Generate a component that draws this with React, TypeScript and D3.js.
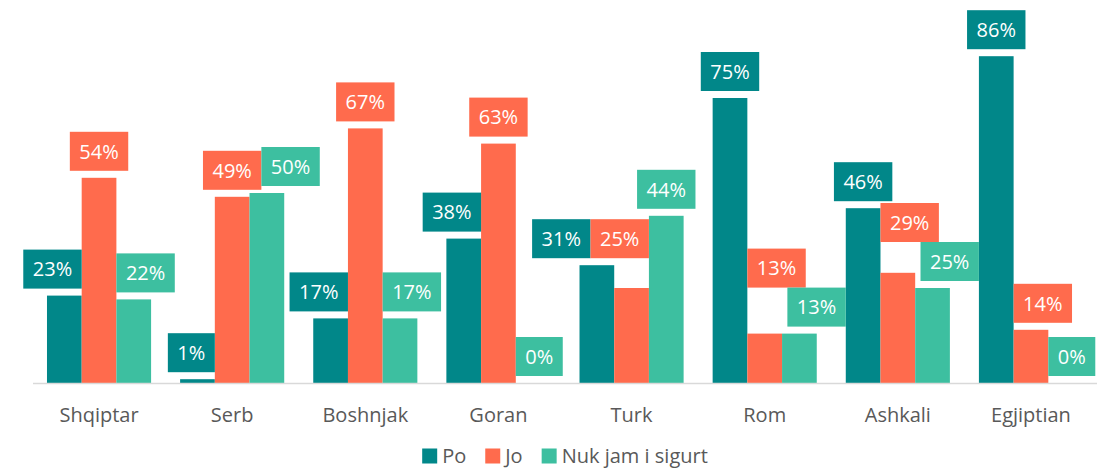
import React from "react";
import * as d3 from "d3";

const categories = ["Shqiptar", "Serb", "Boshnjak", "Goran", "Turk", "Rom", "Ashkali", "Egjiptian"];
const seriesNames = ["Po", "Jo", "Nuk jam i sigurt"];
const poValues = [23, 1, 17, 38, 31, 75, 46, 86];
const joValues = [54, 49, 67, 63, 25, 13, 29, 14];
const nukValues = [22, 50, 17, 0, 44, 13, 25, 0];
const seriesColors = ["#018789", "#FF6B4D", "#3DBFA0"];

const W = 1097;
const H = 468;
const FONT = "'Open Sans', 'Noto Sans', sans-serif";

type Bar = { ci: number; si: number; v: number; x0: number; x1: number; top: number };
type Box = { bar: Bar; text: string; w: number; h: number; x0: number; x1: number; y0: number; y1: number };

function overlapsBar(b: Box, bar: Bar) {
  return b.x1 > bar.x0 + 0.5 && b.x0 < bar.x1 - 0.5 && b.y1 > bar.top + 0.5 && bar.v > 0;
}
function overlapsBox(a: Box, b: Box) {
  return a.x1 > b.x0 + 0.5 && a.x0 < b.x1 - 0.5 && a.y1 > b.y0 + 0.5 && a.y0 < b.y1 - 0.5;
}
function shiftX(b: Box, dx: number) { b.x0 += dx; b.x1 += dx; }
function setY1(b: Box, y1: number) { b.y1 = y1; b.y0 = y1 - b.h; }

export default function App() {
  const plotLeft = 33;
  const plotRight = 1097;
  const x = d3.scaleBand<string>().domain(categories).range([plotLeft, plotRight]).paddingInner(0.218).paddingOuter(0.105);
  const xs = d3.scaleBand<string>().domain(seriesNames).range([0, x.bandwidth()]);
  const y = d3.scaleLinear().domain([0, 100]).range([383, 3]);
  const series = [poValues, joValues, nukValues];
  const fmt = (v: number) => `${v}%`;

  const bars: Bar[] = [];
  categories.forEach((c, ci) =>
    series.forEach((vals, si) => {
      const x0 = (x(c) as number) + (xs(seriesNames[si]) as number);
      bars.push({ ci, si, v: vals[ci], x0, x1: x0 + xs.bandwidth(), top: y(vals[ci]) });
    })
  );

  const canvas = typeof document !== "undefined" ? document.createElement("canvas") : null;
  const ctx = canvas ? canvas.getContext("2d") : null;
  const measure = (t: string, size: number) => {
    if (!ctx) return t.length * size * 0.57;
    ctx.font = `${size}px 'Open Sans'`;
    return ctx.measureText(t).width;
  };

  const gap = 7;
  const boxH = 39;
  const padX = 9.5;
  const boxes: Box[] = bars.map((bar) => {
    const text = fmt(bar.v);
    const w = measure(text, 20) + padX * 2;
    const cx = (bar.x0 + bar.x1) / 2;
    const y1 = bar.top - gap;
    return { bar, text, w, h: boxH, x0: cx - w / 2, x1: cx + w / 2, y0: y1 - boxH, y1 };
  });

  // step 1: keep labels off other bars
  boxes.forEach((b) => {
    const hits = bars.filter((o) => o !== b.bar && overlapsBar(b, o));
    if (!hits.length) return;
    const tallest = hits.reduce((a, o) => (o.top < a.top ? o : a));
    if (tallest.x0 < b.bar.x0) shiftX(b, tallest.x1 - b.x0);
    else shiftX(b, tallest.x0 - b.x1);
    const rest = bars.filter((o) => o !== b.bar && overlapsBar(b, o));
    if (rest.length) setY1(b, d3.min(rest, (o) => o.top)! - gap);
  });

  const roomRight = (b: Box) => {
    let room = plotRight - b.x1;
    bars.forEach((o) => {
      if (o !== b.bar && o.v > 0 && o.x0 >= b.x1 - 0.5 && o.top < b.y1) room = Math.min(room, o.x0 - b.x1);
    });
    return Math.max(0, room);
  };
  const roomLeft = (b: Box) => {
    let room = b.x0;
    bars.forEach((o) => {
      if (o !== b.bar && o.v > 0 && o.x1 <= b.x0 + 0.5 && o.top < b.y1) room = Math.min(room, b.x0 - o.x1);
    });
    return Math.max(0, room);
  };

  // step 2: keep labels off each other
  for (let pass = 0; pass < 2; pass++) {
    for (let i = 0; i < boxes.length; i++) {
      for (let j = i + 1; j < boxes.length; j++) {
        const A = boxes[i];
        const B = boxes[j];
        if (!overlapsBox(A, B)) continue;
        let ox = A.x1 - B.x0;
        const sr = Math.min(ox, roomRight(B));
        shiftX(B, sr);
        ox -= sr;
        if (ox > 0.5) {
          const sl = Math.min(ox, roomLeft(A));
          shiftX(A, -sl);
          ox -= sl;
        }
        if (ox > 0.5 && overlapsBox(A, B)) {
          if (A.y1 <= B.y1) setY1(A, B.y0);
          else setY1(B, A.y0);
        }
      }
    }
  }

  // legend layout
  const legendSize = 20;
  const sq = 15;
  const sqGap = 5;
  const itemGap = 19;
  const legendBaseline = 462.5;
  const widths = seriesNames.map((s) => sq + sqGap + measure(s, legendSize));
  const total = d3.sum(widths) + itemGap * (seriesNames.length - 1);
  let lx = (plotLeft + plotRight) / 2 - total / 2;
  const legendItems = seriesNames.map((s, i) => {
    const item = { name: s, x: lx, color: seriesColors[i] };
    lx += widths[i] + itemGap;
    return item;
  });

  return (
    <svg width={W} height={H} style={{ position: "absolute", left: 0, top: 0, background: "#fff" }} fontFamily={FONT}>
      {bars.map((b, i) =>
        b.v > 0 ? (
          <rect key={`b${i}`} x={b.x0} y={b.top} width={b.x1 - b.x0} height={y(0) - b.top} fill={seriesColors[b.si]} />
        ) : null
      )}
      <line x1={plotLeft} x2={plotRight} y1={y(0) + 0.5} y2={y(0) + 0.5} stroke="#D9D9D9" strokeWidth={1.5} />
      {categories.map((c) => (
        <text key={c} x={(x(c) as number) + x.bandwidth() / 2} y={422} textAnchor="middle" fontSize={20} fill="#595959">
          {c}
        </text>
      ))}
      {boxes.map((b, i) => (
        <g key={`l${i}`}>
          <rect x={b.x0} y={b.y0} width={b.w} height={b.h} fill={seriesColors[b.bar.si]} />
          <text x={(b.x0 + b.x1) / 2} y={(b.y0 + b.y1) / 2} dy="0.36em" textAnchor="middle" fontSize={20} fill="#fff">
            {b.text}
          </text>
        </g>
      ))}
      {legendItems.map((it) => (
        <g key={it.name}>
          <rect x={it.x} y={legendBaseline - 14} width={sq} height={sq} fill={it.color} />
          <text x={it.x + sq + sqGap} y={legendBaseline} fontSize={legendSize} fill="#595959">
            {it.name}
          </text>
        </g>
      ))}
    </svg>
  );
}
